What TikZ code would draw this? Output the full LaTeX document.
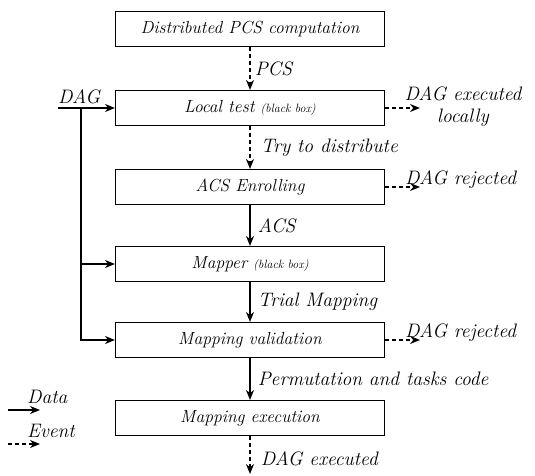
\documentclass[tikz,border=0pt]{standalone}
\usetikzlibrary{arrows.meta}
\begin{document}
\begin{tikzpicture}[x=1pt,y=-1pt,
  box/.style={draw,line width=1.1pt,minimum width=269pt,minimum height=35pt,inner sep=0pt,font=\fontsize{17.5}{20}\selectfont\itshape},
  lbl/.style={font=\fontsize{19.5}{22}\selectfont\itshape,inner sep=0pt},
  data/.style={line width=1.6pt,-{Stealth[length=10pt,width=8pt]}},
  event/.style={line width=1.6pt,dash pattern=on 4pt off 3pt,-{Stealth[length=10pt,width=8pt]}}]
\useasboundingbox (0,0) rectangle (535,476);
\newcommand{\bbox}{{\fontsize{12}{13}\selectfont (black box)}}
\node[box] (b1) at (250,29) {Distributed PCS computation};
\node[box] (b2) at (250,108) {Local test \bbox};
\node[box] (b3) at (250,187) {ACS Enrolling};
\node[box] (b4) at (250,264) {Mapper \bbox};
\node[box] (b5) at (250,340) {Mapping validation};
\node[box] (b6) at (250,418) {Mapping execution};
\coordinate (bot) at (250,474);
% vertical
\draw[event] (b1) -- (b2) node[lbl,midway,right,xshift=4pt] {PCS};
\draw[event] (b2) -- (b3) node[lbl,midway,right,xshift=10pt] {Try to distribute};
\draw[data] (b3) -- (b4) node[lbl,midway,right,xshift=7pt] {ACS};
\draw[data] (b4) -- (b5) node[lbl,midway,right,xshift=7pt] {Trial Mapping};
\draw[data] (b5) -- (b6) node[lbl,midway,right,xshift=7pt] {Permutation and tasks code};
\draw[event] (b6) -- (bot) node[lbl,pos=0.6,right,xshift=10pt] {DAG executed};
% left DAG input
\coordinate (dagin) at (58,108);
\coordinate (j) at (81,108);
\draw[data] (dagin) -- (b2.west);
\node[lbl,anchor=base west] (dag) at (58,103) {DAG};
\draw[line width=1.6pt] (j) -- (81,340);
\draw[data] (j) |- (b4.west);
\draw[data] (j) |- (b5.west);
% right events
\coordinate (r2) at (420,108);
\coordinate (r3) at (420,187);
\coordinate (r5) at (420,340);
\draw[event] (b2.east) -- (r2);
\draw[event] (b3.east) -- (r3);
\draw[event] (b5.east) -- (r5);
\node[lbl,align=center,anchor=base] (l2) at (463,122) {DAG executed\\[-1pt]locally};
\node[lbl,anchor=base west] (l3) at (405,184) {DAG rejected};
\node[lbl,anchor=base west] (l5) at (405,337) {DAG rejected};
% legend
\coordinate (d1) at (8,410);
\coordinate (d2) at (40,410);
\coordinate (e1) at (8,444);
\coordinate (e2) at (40,444);
\draw[data] (d1) -- (d2);
\draw[event] (e1) -- (e2);
\node[lbl,anchor=base west] (ld) at (27,403) {Data};
\node[lbl,anchor=base west] (le) at (27,437) {Event};
\end{tikzpicture}
\end{document}
